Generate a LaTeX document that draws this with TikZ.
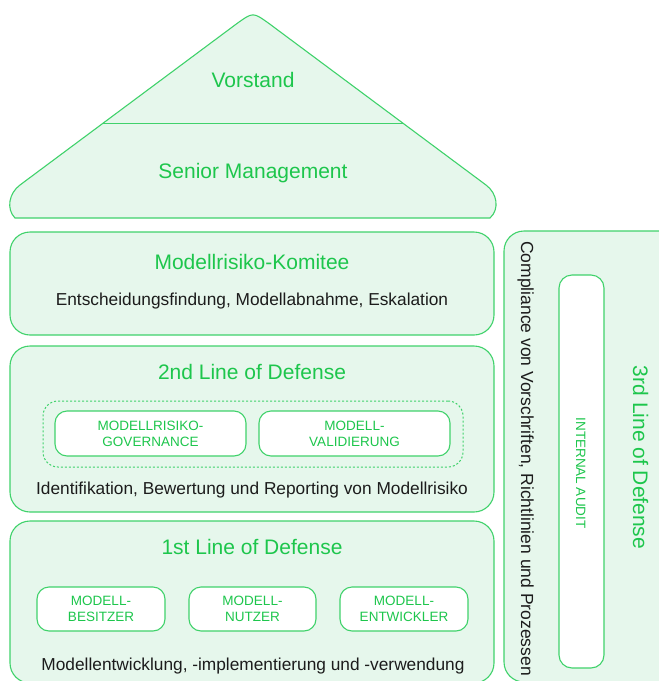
\documentclass[tikz,border=0pt]{standalone}
\usepackage{fontspec}
\setmainfont{Liberation Sans}
\definecolor{lodgreen}{HTML}{1DC64C}
\definecolor{lodline}{HTML}{40D26B}
\definecolor{lodfill}{HTML}{E6F7EC}
\definecolor{lodink}{HTML}{1C1C1C}
\tikzset{
  panel/.style={draw=lodline, fill=lodfill, line width=1.1pt, rounded corners=20pt, inner sep=0pt},
  tile/.style={draw=lodline, fill=white, line width=1.1pt, rounded corners=12pt, inner sep=0pt,
    text=lodgreen, font=\fontsize{13.5}{16}\selectfont, align=center},
  group/.style={draw=lodline, line width=1pt, dash pattern=on 2pt off 2pt, rounded corners=15pt, inner sep=0pt},
  heading/.style={text=lodgreen, font=\fontsize{21}{25}\selectfont, anchor=base, inner sep=0pt},
  caption/.style={text=lodink, font=\fontsize{17.3}{20}\selectfont, anchor=base, inner sep=0pt},
}
\begin{document}
\begin{tikzpicture}[x=1pt, y=-1pt]
\useasboundingbox (0,0) rectangle (659,681);
\clip (0,0) rectangle (659,681);

% roof: Vorstand and Senior Management
\draw[draw=lodline, fill=lodfill, line width=1.1pt]
  (20,185) -- (237,23.5) .. controls (253,12) .. (269,23.5) -- (486,185)
  .. controls (497,193) and (500,209) .. (490,218) -- (15,218)
  .. controls (6,209) and (9,193) .. (20,185) -- cycle;
\draw[lodline, line width=1.1pt] (103,123.5) -- (403,123.5);
\node[heading] (vorstand) at (253,87) {Vorstand};
\node[heading] (senior) at (253,178) {Senior Management};

% Modellrisiko-Komitee
\node[panel, minimum width=484pt, minimum height=103pt] (komitee) at (252,283.5) {};
\node[heading] (komiteetitle) at (252,269.5) {Modellrisiko-Komitee};
\node[caption] (komiteetext) at (252,305) {Entscheidungsfindung, Modellabnahme, Eskalation};

% 2nd Line of Defense
\node[panel, minimum width=484pt, minimum height=166pt] (second) at (252,429) {};
\node[heading] (secondtitle) at (252,379) {2nd Line of Defense};
\node[group, minimum width=420pt, minimum height=66pt] (secondgroup) at (253,434) {};
\node[tile, minimum width=191pt, minimum height=45pt] (governance) at (150.5,433.5) {MODELLRISIKO-\\GOVERNANCE};
\node[tile, minimum width=191pt, minimum height=45pt] (validierung) at (354.5,433.5) {MODELL-\\VALIDIERUNG};
\node[caption] (secondtext) at (252,494) {Identifikation, Bewertung und Reporting von Modellrisiko};

% 1st Line of Defense
\node[panel, minimum width=484pt, minimum height=162pt] (first) at (252,602) {};
\node[heading] (firsttitle) at (252,554) {1st Line of Defense};
\node[tile, minimum width=128pt, minimum height=44pt] (besitzer) at (101,609) {MODELL-\\BESITZER};
\node[tile, minimum width=127pt, minimum height=44pt] (nutzer) at (252.5,609) {MODELL-\\NUTZER};
\node[tile, minimum width=128pt, minimum height=44pt] (entwickler) at (404,609) {MODELL-\\ENTWICKLER};
\node[caption] (firsttext) at (253,670) {Modellentwicklung, -implementierung und -verwendung};

% 3rd Line of Defense
\node[panel, minimum width=186pt, minimum height=451pt] (third) at (597,456.5) {};
\node[caption, rotate=-90, font=\fontsize{17.5}{20}\selectfont] (compliance) at (521,458.5)
  {Compliance von Vorschriften, Richtlinien und Prozessen};
\node[tile, rounded corners=13pt, minimum width=45pt, minimum height=393pt] (audit) at (581.5,471.5) {};
\node[rotate=-90, anchor=base, inner sep=0pt, text=lodgreen, font=\fontsize{13.5}{16}\selectfont]
  (audittext) at (576,473) {INTERNAL AUDIT};
\node[heading, rotate=-90] (thirdtitle) at (633,457.5) {3rd Line of Defense};
\end{tikzpicture}
\end{document}
